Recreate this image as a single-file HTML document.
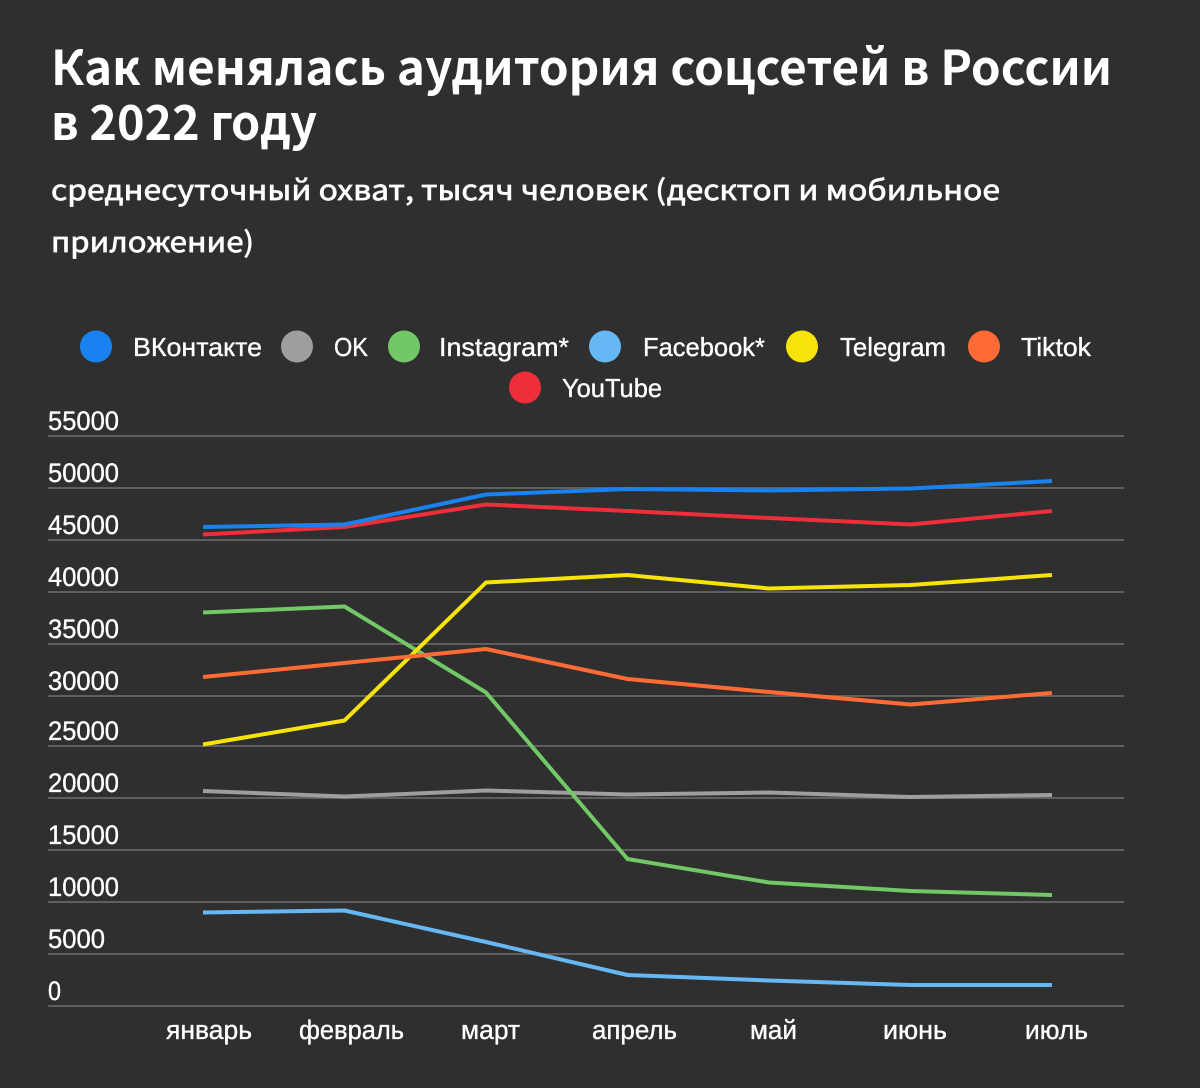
<!DOCTYPE html>
<html>
<head>
<meta charset="utf-8">
<style>
html,body{margin:0;padding:0;background:#2f2f2f;}
svg{display:block;}
.t{font-family:"Liberation Sans","Noto Sans CJK SC",sans-serif;fill:#ffffff;stroke:#ffffff;stroke-width:0.35px;}
.h{font-family:"Noto Sans CJK SC","Liberation Sans",sans-serif;fill:#ffffff;font-weight:700;}
.s{font-family:"Noto Sans CJK SC","Liberation Sans",sans-serif;fill:#ffffff;font-weight:400;stroke:#ffffff;stroke-width:0.7px;}
</style>
</head>
<body>
<svg width="1200" height="1088" viewBox="0 0 1200 1088" xmlns="http://www.w3.org/2000/svg">
<rect width="1200" height="1088" fill="#2f2f2f"/>

<!-- Title -->
<text class="h" x="51" y="85" font-size="48" textLength="1061" lengthAdjust="spacingAndGlyphs">Как менялась аудитория соцсетей в России</text>
<text class="h" x="51" y="140" font-size="48" textLength="266" lengthAdjust="spacingAndGlyphs">в 2022 году</text>
<text class="s" x="51" y="200" font-size="28" textLength="949" lengthAdjust="spacingAndGlyphs">среднесуточный охват, тысяч человек (десктоп и мобильное</text>
<text class="s" x="51" y="252" font-size="28" textLength="203" lengthAdjust="spacingAndGlyphs">приложение)</text>

<!-- Legend -->
<g>
<circle cx="96" cy="346.5" r="16" fill="#1a82f0"/>
<text class="t" x="133" y="356" font-size="26" textLength="129" lengthAdjust="spacingAndGlyphs">ВКонтакте</text>
<circle cx="297" cy="346.5" r="16" fill="#9e9e9e"/>
<text class="t" x="334" y="356" font-size="26" textLength="34" lengthAdjust="spacingAndGlyphs">OK</text>
<circle cx="404" cy="346.5" r="16" fill="#72c866"/>
<text class="t" x="439" y="356" font-size="26" textLength="130" lengthAdjust="spacingAndGlyphs">Instagram*</text>
<circle cx="605" cy="346.5" r="16" fill="#66b8f5"/>
<text class="t" x="643" y="356" font-size="26" textLength="122" lengthAdjust="spacingAndGlyphs">Facebook*</text>
<circle cx="802" cy="346.5" r="16" fill="#f6e30a"/>
<text class="t" x="840" y="356" font-size="26" textLength="106" lengthAdjust="spacingAndGlyphs">Telegram</text>
<circle cx="984" cy="346.5" r="16" fill="#ff6b35"/>
<text class="t" x="1021" y="356" font-size="26" textLength="70" lengthAdjust="spacingAndGlyphs">Tiktok</text>
<circle cx="525" cy="387.5" r="16" fill="#ee2e3a"/>
<text class="t" x="562" y="397" font-size="26" textLength="100" lengthAdjust="spacingAndGlyphs">YouTube</text>
</g>

<!-- Gridlines -->
<g stroke="#5f5f5f" stroke-width="2">
<line x1="48" y1="436" x2="1124" y2="436"/>
<line x1="48" y1="488" x2="1124" y2="488"/>
<line x1="48" y1="540" x2="1124" y2="540"/>
<line x1="48" y1="592" x2="1124" y2="592"/>
<line x1="48" y1="644" x2="1124" y2="644"/>
<line x1="48" y1="696" x2="1124" y2="696"/>
<line x1="48" y1="746" x2="1124" y2="746"/>
<line x1="48" y1="798" x2="1124" y2="798"/>
<line x1="48" y1="850" x2="1124" y2="850"/>
<line x1="48" y1="902" x2="1124" y2="902"/>
<line x1="48" y1="954" x2="1124" y2="954"/>
<line x1="48" y1="1006" x2="1124" y2="1006"/>
</g>

<!-- Y labels -->
<g font-size="27">
<text class="t" x="48" y="430" textLength="71" lengthAdjust="spacingAndGlyphs">55000</text>
<text class="t" x="48" y="482" textLength="71" lengthAdjust="spacingAndGlyphs">50000</text>
<text class="t" x="48" y="534" textLength="71" lengthAdjust="spacingAndGlyphs">45000</text>
<text class="t" x="48" y="586" textLength="71" lengthAdjust="spacingAndGlyphs">40000</text>
<text class="t" x="48" y="638" textLength="71" lengthAdjust="spacingAndGlyphs">35000</text>
<text class="t" x="48" y="690" textLength="71" lengthAdjust="spacingAndGlyphs">30000</text>
<text class="t" x="48" y="740" textLength="71" lengthAdjust="spacingAndGlyphs">25000</text>
<text class="t" x="48" y="792" textLength="71" lengthAdjust="spacingAndGlyphs">20000</text>
<text class="t" x="48" y="844" textLength="71" lengthAdjust="spacingAndGlyphs">15000</text>
<text class="t" x="48" y="896" textLength="71" lengthAdjust="spacingAndGlyphs">10000</text>
<text class="t" x="48" y="948" textLength="57" lengthAdjust="spacingAndGlyphs">5000</text>
<text class="t" x="48" y="1000" textLength="13" lengthAdjust="spacingAndGlyphs">0</text>
</g>

<!-- X labels -->
<g font-size="27">
<text class="t" x="166" y="1039" textLength="86" lengthAdjust="spacingAndGlyphs">январь</text>
<text class="t" x="299" y="1039" textLength="105" lengthAdjust="spacingAndGlyphs">февраль</text>
<text class="t" x="461" y="1039" textLength="59" lengthAdjust="spacingAndGlyphs">март</text>
<text class="t" x="592" y="1039" textLength="85" lengthAdjust="spacingAndGlyphs">апрель</text>
<text class="t" x="750" y="1039" textLength="47" lengthAdjust="spacingAndGlyphs">май</text>
<text class="t" x="883" y="1039" textLength="64" lengthAdjust="spacingAndGlyphs">июнь</text>
<text class="t" x="1025" y="1039" textLength="63" lengthAdjust="spacingAndGlyphs">июль</text>
</g>

<!-- Series -->
<g fill="none" stroke-width="4" stroke-linejoin="round" stroke-linecap="butt">
<polyline stroke="#9e9e9e" points="203,791 344.5,796.5 486,790.5 627.5,794.5 769,792.5 910.5,797 1052,795"/>
<polyline stroke="#66b8f5" points="203,912.5 344.5,910.5 486,942 627.5,975 769,980.5 910.5,985 1052,985"/>
<polyline stroke="#72c866" points="203,612.5 344.5,606.5 486,692.5 627.5,859 769,882.5 910.5,891 1052,895"/>
<polyline stroke="#f6e30a" points="203,744.5 344.5,720.5 486,582.5 627.5,575 769,588.5 910.5,585 1052,575"/>
<polyline stroke="#ff6b35" points="203,677 344.5,663 486,649 627.5,679 769,692 910.5,704.5 1052,693"/>
<polyline stroke="#ee2e3a" points="203,534.5 344.5,527 486,504.5 627.5,511 769,518 910.5,524.5 1052,511"/>
<polyline stroke="#1a82f0" points="203,527 344.5,524.5 486,494.5 627.5,489 769,490.5 910.5,488.5 1052,481"/>
</g>
</svg>
</body>
</html>
